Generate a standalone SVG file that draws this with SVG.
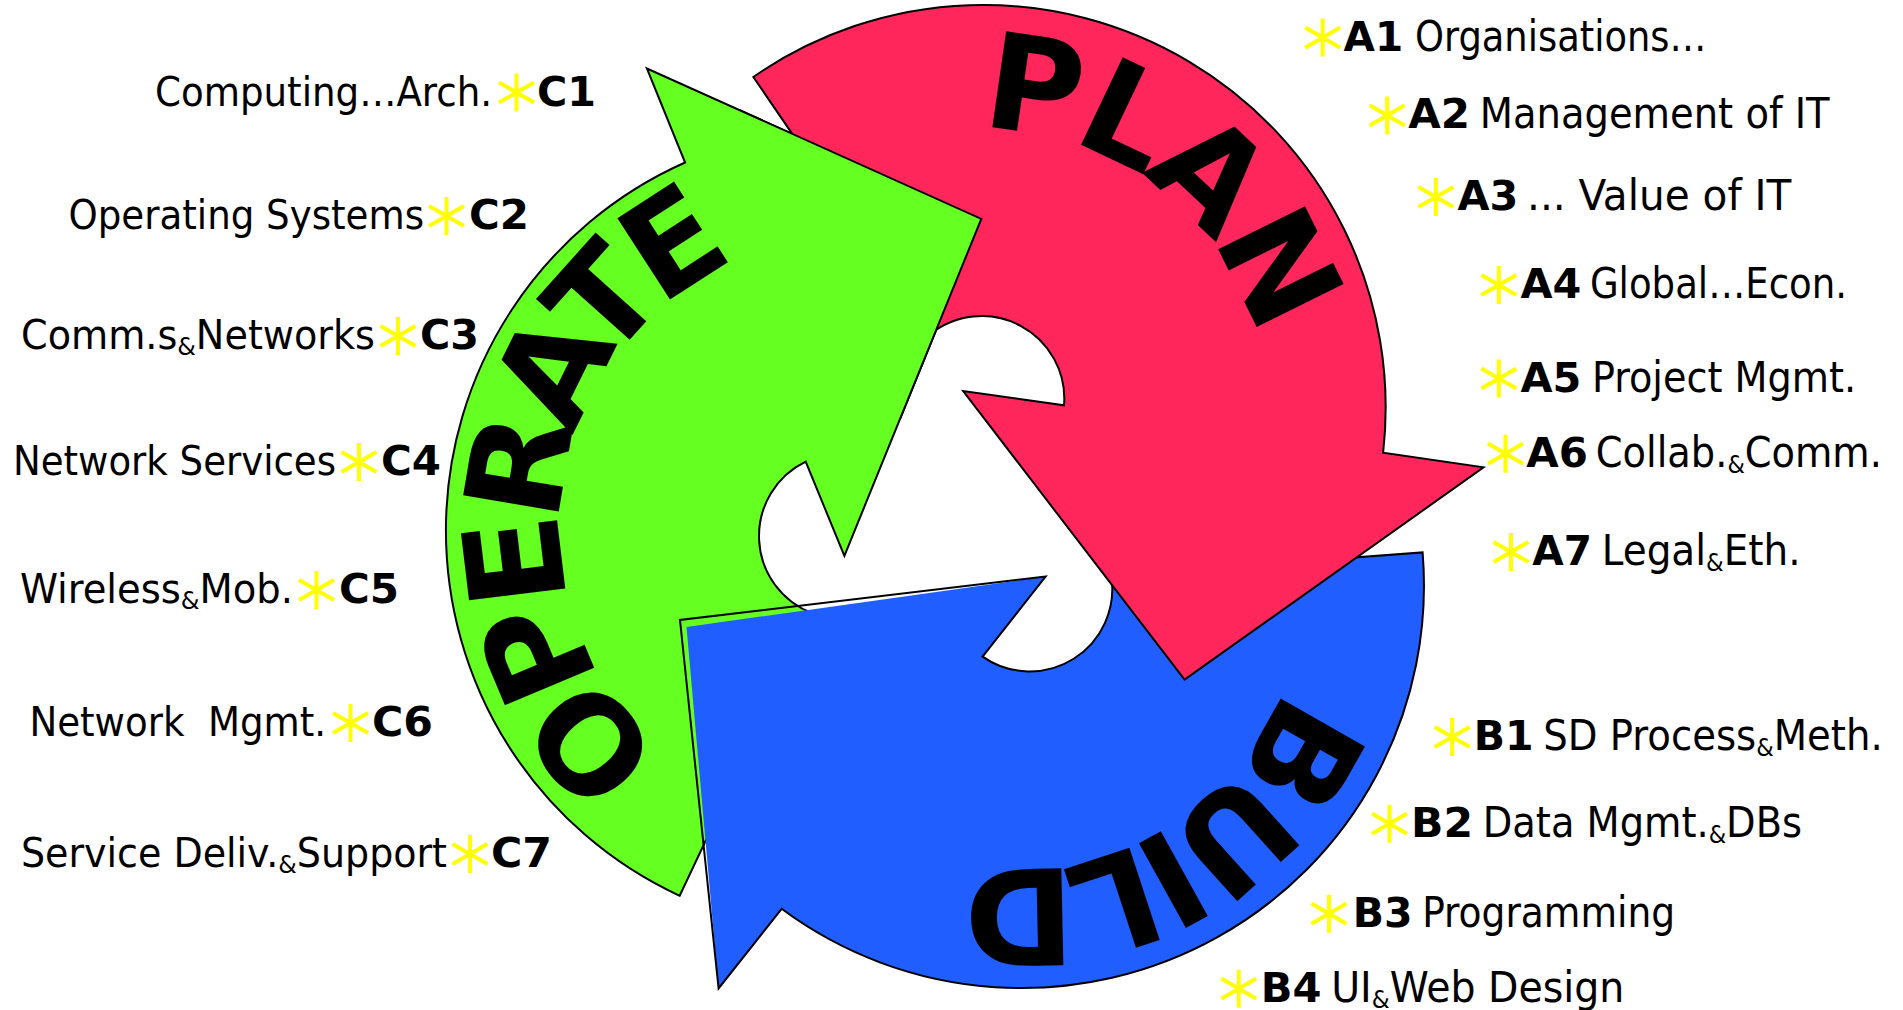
<svg xmlns="http://www.w3.org/2000/svg" width="1903" height="1010" viewBox="0 0 1903 1010">
<style>
.reg{font-family:"DejaVu Sans Condensed","DejaVu Sans",sans-serif;font-size:40px;fill:#000}
.rt{font-size:43px}
.code{font-family:"DejaVu Sans Condensed","DejaVu Sans",sans-serif;font-weight:bold;font-size:40px;fill:#000}
.amp{font-size:25px}
.big{font-family:"DejaVu Sans",Verdana,sans-serif;font-weight:bold;font-size:133px;fill:#000}
.arrow{stroke:#000;stroke-width:2;stroke-linejoin:miter;stroke-miterlimit:10}
</style>
<defs>
<path id="arrow" d="M 679.7 895.8 A 402.5 402.5 0 0 1 685.1 162.5 L 646.9 68.5 L 981.3 218.9 L 844.4 555.9 L 805.7 461.7 A 82.5 82.5 0 0 0 812.9 613.4 Z"/>
<path id="arcOp" d="M 849 817 A 289 289 0 1 1 849 239 A 289 289 0 1 1 849 817"/>
<path id="arcPlan" d="M 849 808 A 280 280 0 1 1 849 248 A 280 280 0 1 1 849 808"/>
<path id="arcBuild" d="M 849 811 A 283 283 0 1 1 849 245 A 283 283 0 1 1 849 811"/>
<g id="star"><path d="M0 -19V19M-17.5 -10.1L17.5 10.1M-17.5 10.1L17.5 -10.1" stroke="#FFFF00" stroke-width="4" fill="none"/></g>
<clipPath id="clipTop"><rect x="740" y="60" width="260" height="360"/></clipPath>
</defs>

<g id="operate">
<use href="#arrow" fill="#66FF22" class="arrow"/>
<text class="big" letter-spacing="-13.5"><textPath href="#arcOp" startOffset="197">OPERATE</textPath></text>
</g>

<g id="build">
<path d="M 1422.6 552.4 A 402.5 402.5 0 0 1 781.6 908.8 L 718.6 988.4 L 686.5 627 L 1045.6 576.5 L 982.6 656.6 A 82.5 82.5 0 0 0 1111.2 575.6 Z" fill="#215EFF"/>
<path d="M 1422.6 552.4 A 402.5 402.5 0 0 1 781.6 908.8 L 718.6 988.4 L 680 620 L 1045.6 576.5 L 982.6 656.6 A 82.5 82.5 0 0 0 1111.2 575.6 Z" fill="none" class="arrow"/>
<text class="big" letter-spacing="-14" transform="rotate(240.5 951 507.5)"><textPath href="#arcBuild" startOffset="248">BUILD</textPath></text>
</g>

<g id="plan">
<use href="#arrow" fill="#FF265C" class="arrow" transform="rotate(120.4 951 507.5)"/>
<text class="big" letter-spacing="-7" transform="rotate(120.4 951 507.5)"><textPath href="#arcPlan" startOffset="286">PLAN</textPath></text>
</g>

<g id="operate-overlap" clip-path="url(#clipTop)">
<use href="#arrow" fill="#66FF22" class="arrow"/>
</g>

<g id="c1"><text class="reg" x="155" y="105.5" textLength="337" lengthAdjust="spacingAndGlyphs">Computing…Arch.</text><use href="#star" x="516.5" y="92.5"/><text class="code" x="537" y="105.5" textLength="59" lengthAdjust="spacingAndGlyphs">C1</text></g>
<g id="c2"><text class="reg" x="68.5" y="229" textLength="355.5" lengthAdjust="spacingAndGlyphs">Operating Systems</text><use href="#star" x="446.5" y="216"/><text class="code" x="469" y="229" textLength="60" lengthAdjust="spacingAndGlyphs">C2</text></g>
<g id="c3"><text class="reg" x="21" y="349" textLength="354" lengthAdjust="spacingAndGlyphs">Comm.s<tspan class="amp" dy="6">&amp;</tspan><tspan dy="-6">Networks</tspan></text><use href="#star" x="398" y="336"/><text class="code" x="420" y="349" textLength="59" lengthAdjust="spacingAndGlyphs">C3</text></g>
<g id="c4"><text class="reg" x="13" y="475" textLength="323" lengthAdjust="spacingAndGlyphs">Network Services</text><use href="#star" x="359" y="462"/><text class="code" x="381" y="475" textLength="60" lengthAdjust="spacingAndGlyphs">C4</text></g>
<g id="c5"><text class="reg" x="20" y="603" textLength="273" lengthAdjust="spacingAndGlyphs">Wireless<tspan class="amp" dy="6">&amp;</tspan><tspan dy="-6">Mob.</tspan></text><use href="#star" x="316.5" y="590"/><text class="code" x="339" y="603" textLength="60" lengthAdjust="spacingAndGlyphs">C5</text></g>
<g id="c6"><text class="reg" x="29.5" y="736" textLength="296.5" lengthAdjust="spacingAndGlyphs" xml:space="preserve" style="white-space:pre">Network  Mgmt.</text><use href="#star" x="350.5" y="723"/><text class="code" x="372" y="736" textLength="61" lengthAdjust="spacingAndGlyphs">C6</text></g>
<g id="c7"><text class="reg" x="21" y="867" textLength="426" lengthAdjust="spacingAndGlyphs">Service Deliv.<tspan class="amp" dy="6">&amp;</tspan><tspan dy="-6">Support</tspan></text><use href="#star" x="470" y="854"/><text class="code" x="491" y="867" textLength="61" lengthAdjust="spacingAndGlyphs">C7</text></g>

<g id="a1"><use href="#star" x="1322.7" y="37.6"/><text class="code rt" x="1343.6" y="50.6" textLength="59.6" lengthAdjust="spacingAndGlyphs">A1</text><text class="reg rt" x="1415" y="50.6" textLength="291.3" lengthAdjust="spacingAndGlyphs">Organisations…</text></g>
<g id="a2"><use href="#star" x="1387.2" y="115.4"/><text class="code rt" x="1408.3" y="128.4" textLength="61.7" lengthAdjust="spacingAndGlyphs">A2</text><text class="reg rt" x="1479.8" y="128.4" textLength="349.7" lengthAdjust="spacingAndGlyphs">Management of IT</text></g>
<g id="a3"><use href="#star" x="1435.9" y="197"/><text class="code rt" x="1457.6" y="210" textLength="60.8" lengthAdjust="spacingAndGlyphs">A3</text><text class="reg rt" x="1527" y="210" textLength="264.3" lengthAdjust="spacingAndGlyphs">... Value of IT</text></g>
<g id="a4"><use href="#star" x="1498.9" y="285"/><text class="code rt" x="1520.4" y="298" textLength="60.8" lengthAdjust="spacingAndGlyphs">A4</text><text class="reg rt" x="1589.9" y="298" textLength="257.1" lengthAdjust="spacingAndGlyphs">Global…Econ.</text></g>
<g id="a5"><use href="#star" x="1498.9" y="378.5"/><text class="code rt" x="1520.4" y="391.5" textLength="60.8" lengthAdjust="spacingAndGlyphs">A5</text><text class="reg rt" x="1591.9" y="391.5" textLength="264.2" lengthAdjust="spacingAndGlyphs">Project Mgmt.</text></g>
<g id="a6"><use href="#star" x="1505.5" y="453.7"/><text class="code rt" x="1526.3" y="466.7" textLength="61.6" lengthAdjust="spacingAndGlyphs">A6</text><text class="reg rt" x="1595.8" y="466.7" textLength="286.1" lengthAdjust="spacingAndGlyphs">Collab.<tspan class="amp" dy="6">&amp;</tspan><tspan dy="-6">Comm.</tspan></text></g>
<g id="a7"><use href="#star" x="1511" y="552"/><text class="code rt" x="1532.3" y="565" textLength="59.6" lengthAdjust="spacingAndGlyphs">A7</text><text class="reg rt" x="1601.8" y="565" textLength="198.7" lengthAdjust="spacingAndGlyphs">Legal<tspan class="amp" dy="6">&amp;</tspan><tspan dy="-6">Eth.</tspan></text></g>

<g id="b1"><use href="#star" x="1452.2" y="737"/><text class="code rt" x="1473.8" y="750" textLength="59.8" lengthAdjust="spacingAndGlyphs">B1</text><text class="reg rt" x="1543.3" y="750" textLength="339.4" lengthAdjust="spacingAndGlyphs">SD Process<tspan class="amp" dy="6">&amp;</tspan><tspan dy="-6">Meth.</tspan></text></g>
<g id="b2"><use href="#star" x="1389.5" y="823.7"/><text class="code rt" x="1411" y="836.7" textLength="62" lengthAdjust="spacingAndGlyphs">B2</text><text class="reg rt" x="1482.8" y="836.7" textLength="319.2" lengthAdjust="spacingAndGlyphs">Data Mgmt.<tspan class="amp" dy="6">&amp;</tspan><tspan dy="-6">DBs</tspan></text></g>
<g id="b3"><use href="#star" x="1329" y="913.7"/><text class="code rt" x="1352.7" y="926.7" textLength="59.8" lengthAdjust="spacingAndGlyphs">B3</text><text class="reg rt" x="1422.2" y="926.7" textLength="252.9" lengthAdjust="spacingAndGlyphs">Programming</text></g>
<g id="b4"><use href="#star" x="1238.8" y="988.7"/><text class="code rt" x="1260.8" y="1001.7" textLength="60.7" lengthAdjust="spacingAndGlyphs">B4</text><text class="reg rt" x="1331.2" y="1001.7" textLength="293.2" lengthAdjust="spacingAndGlyphs">UI<tspan class="amp" dy="6">&amp;</tspan><tspan dy="-6">Web Design</tspan></text></g>
</svg>
